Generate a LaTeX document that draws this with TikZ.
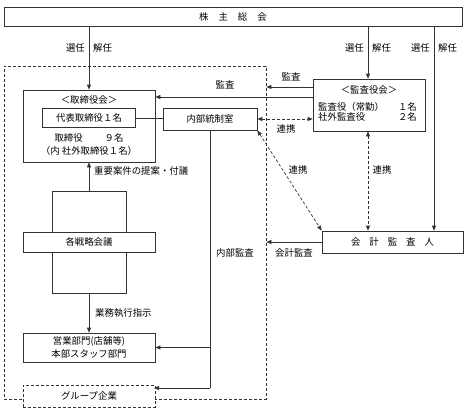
\documentclass[tikz,border=0pt]{standalone}
\usepackage{fontspec}
\newfontfamily\jp{Noto Sans CJK JP}
\usetikzlibrary{arrows.meta}
\begin{document}
\begin{tikzpicture}[x=1pt,y=-1pt,
  font=\jp\fontsize{9.4}{10.5}\selectfont,
  box/.style={draw=black!80, fill=white, line width=0.7pt, inner sep=0pt},
  dbox/.style={box, dash pattern=on 3pt off 2pt},
  arr/.style={-{Triangle[length=5pt,width=4pt]}, line width=0.7pt, draw=black!80},
  ln/.style={line width=0.7pt, draw=black!80},
  darr/.style={{Triangle[length=5pt,width=4pt]}-{Triangle[length=5pt,width=4pt]}, dash pattern=on 3pt off 2pt, line width=0.7pt, draw=black!80},
  lbl/.style={inner sep=0pt}]
\useasboundingbox (0,0) rectangle (466,416);
% outer dashed frame (group)
\node[dbox, fill=none, minimum width=262pt, minimum height=333pt] (outer) at (135,232.5) {};
% boxes
\node[box, minimum width=458pt, minimum height=19pt] (sh) at (233,16.5) {株\hspace{10pt}主\hspace{10pt}総\hspace{10pt}会};
\node[box, minimum width=132pt, minimum height=72pt] (board) at (89,126) {};
\node[lbl] (boardt) at (89,100) {＜取締役会＞};
\node[box, minimum width=93pt, minimum height=19pt] (rep) at (89,118) {代表取締役１名};
\node[lbl] (boardl1) at (89,138) {取締役\hspace{22pt}９名};
\node[lbl] (boardl2) at (89,151) {（内 社外取締役１名）};
\node[box, minimum width=94pt, minimum height=22pt] (ic) at (210,119) {内部統制室};
\node[box, minimum width=112pt, minimum height=52pt] (aud) at (369,105) {};
\node[lbl] (audt) at (369,90) {＜監査役会＞};
\node[lbl, anchor=west] (aud1) at (318,107) {監査役（常勤）};
\node[lbl, anchor=east] (aud1n) at (417,107) {１名};
\node[lbl, anchor=west] (aud2) at (318,116.5) {社外監査役};
\node[lbl, anchor=east] (aud2n) at (417,116.5) {２名};
\node[box, minimum width=141pt, minimum height=22pt] (acc) at (392.5,242) {会\hspace{9pt}計\hspace{9pt}監\hspace{9pt}査\hspace{9pt}人};
\node[box, minimum width=74pt, minimum height=102pt] (strat) at (89,242) {};
\node[box, minimum width=132pt, minimum height=20pt] (stratb) at (89,242) {各戦略会議};
\node[lbl] (sales1) at (89,341.5) {営業部門(店舗等)};
\node[box, fill=none, minimum width=132pt, minimum height=29pt] (sales) at (89,347.5) {};
\node[lbl] (sales2) at (89,353.5) {本部スタッフ部門};
\node[dbox, minimum width=132pt, minimum height=22pt] (grp) at (89,396) {グループ企業};
% connectors from shareholders
\draw[arr] (board.north |- sh.south) -- (board.north);
\node[lbl, anchor=east] (l1a) at (85,48) {選任};
\node[lbl, anchor=west] (l1b) at (93,48) {解任};
\draw[arr] (368,0 |- sh.south) -- (368,0 |- aud.north);
\node[lbl, anchor=east] (l2a) at (364,48) {選任};
\node[lbl, anchor=west] (l2b) at (372,48) {解任};
\coordinate (c3) at (434,0);
\draw[arr] (c3 |- sh.south) -- (c3 |- acc.north);
\node[lbl, anchor=east] (l3a) at (430,48) {選任};
\node[lbl, anchor=west] (l3b) at (438,48) {解任};
% audit board arrows
\draw[arr] (aud.west |- 0,87) -- (outer.east |- 0,87);
\node[lbl] (lk1) at (291,77) {監査};
\node[lbl] (lk2) at (225,85) {監査};
\draw[arr] (aud.west |- 0,97) -- (board.east |- 0,97);
% rep -- internal control
\draw[ln] (rep.east) -- (ic.west |- rep.east);
% liaisons
\draw[darr] (ic.east) -- (aud.west |- ic.east);
\node[lbl] (lr1) at (286,129) {連携};
\draw[darr] (ic.south east) -- (acc.north west);
\node[lbl] (lr2) at (298,170) {連携};
\draw[darr] (368,0 |- aud.south) -- (368,0 |- acc.north);
\node[lbl] (lr3) at (382,170) {連携};
% accounting audit
\draw[arr] (acc.west) -- (outer.east |- acc.west);
\node[lbl] (la) at (294,253) {会計監査};
% internal audit
\coordinate (ga) at (154,388);
\draw[ln] (ic.south) -- (ic.south |- ga);
\draw[arr] (ic.south |- ga) -- (ga);
\draw[arr] (ic.south |- sales.east) -- (sales.east);
\node[lbl] (lia) at (235,253) {内部監査};
% strategy
\draw[arr] (strat.north) -- (board.south);
\node[lbl, anchor=west] (lp) at (94,171) {重要案件の提案・付議};
\draw[arr] (strat.south) -- (sales.north);
\node[lbl, anchor=west] (le) at (95,313) {業務執行指示};
\end{tikzpicture}
\end{document}
